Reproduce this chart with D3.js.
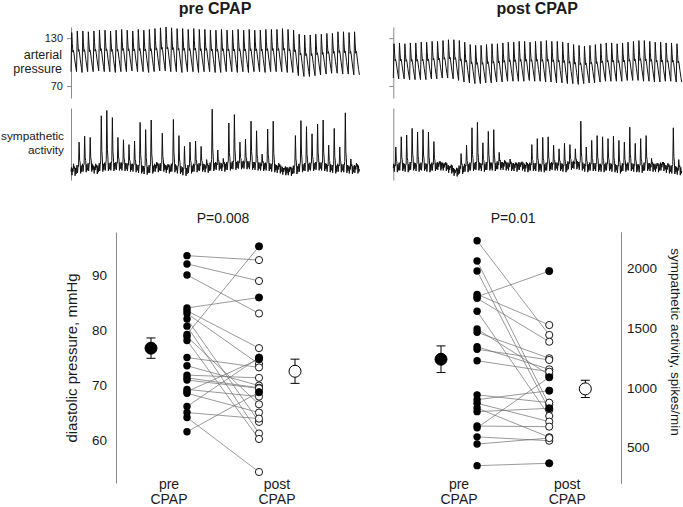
<!DOCTYPE html>
<html>
<head>
<meta charset="utf-8">
<script src="https://cdn.jsdelivr.net/npm/d3@7"></script>
<style>
  body { margin: 0; background: #fff; }
  svg { display: block; font-family: Arial, "Liberation Sans", sans-serif; }
</style>
</head>
<body>
<div id="chart"></div>
<script>
// ---- top traces: one value per heart beat ----
const prePressurePeaks = [137, 139, 139, 138, 139, 140, 140, 139, 140, 141, 140, 139,
  141, 140, 141, 142, 143, 144, 143, 142, 142, 141, 142, 141, 141, 140, 140, 141,
  140, 140, 141, 140, 141, 140, 140, 141, 141, 141, 142, 141, 140, 135, 134, 134,
  135, 135, 136, 136, 138, 138, 137, 138];
const prePressureTroughs = [88, 88, 87, 88, 88, 89, 88, 88, 87, 88, 88, 89, 88, 88,
  87, 88, 89, 89, 88, 88, 87, 88, 88, 87, 88, 88, 87, 87, 88, 88, 87, 88, 87, 88,
  88, 87, 88, 88, 88, 87, 87, 83, 82, 82, 83, 84, 85, 86, 86, 85, 85, 84];
const postPressurePeaks = [123, 124, 123, 124, 124, 125, 125, 126, 126, 127, 128, 128,
  127, 125, 122, 121, 121, 122, 123, 123, 124, 125, 125, 126, 126, 125, 126, 126,
  127, 126, 126, 125, 124, 122, 121, 120, 121, 122, 123, 124, 124, 123, 124, 125,
  126, 127, 127, 126, 125, 125, 124, 124, 123];
const postPressureTroughs = [80, 79, 79, 78, 78, 78, 78, 79, 79, 80, 80, 79, 77, 75,
  74, 73, 73, 74, 74, 75, 75, 76, 76, 76, 76, 77, 76, 76, 75, 75, 74, 74, 73, 73,
  72, 73, 74, 74, 75, 76, 76, 76, 76, 77, 77, 77, 76, 76, 75, 75, 76, 76, 75];

const preBurstHeights = [1.3, 4.5, 5.3, 5.0, 1.0, 8.6, 9.4, 8.2, 4.8, 4.5, 3.8, 4.5,
  7.8, 6.8, 8.2, 1.0, 5.7, 0.8, 8.1, 5.7, 4.2, 4.5, 4.5, 3.5, 1.5, 9.6, 2.7, 1.5,
  7.2, 8.5, 3.8, 4.3, 7.4, 5.9, 2.1, 6.3, 7.8, 1.0, 0.5, 0.8, 5.7, 7.9, 6.8, 5.5,
  7.0, 7.8, 3.8, 6.8, 3.5, 9.3, 1.8, 1.0];
const preBaseline = [-0.6, -0.2, 0, 0.1, -0.3, 0.1, 0.2, 0.2, 0.3, 0.2, 0.1, 0, -0.2,
  -0.4, -0.2, 0, 0.1, -0.2, 0, -0.3, -0.6, -0.2, 0, 0.1, -0.1, 0.2, 0.3, 0.1, 0.3,
  0.4, 0.5, 0.5, 0.4, 0.3, 0.2, 0.2, 0, -0.2, -0.5, -0.6, -0.3, 0, 0.1, 0.2, 0.3,
  0.2, 0, -0.2, 0, -0.1, -0.3, -0.2];
const postBurstHeights = [3.5, 5.0, 5.5, 6.3, 5.9, 6.2, 6.0, 4.2, 0.8, 0.6, 0.5, 0.3,
  2.7, 3.8, 6.5, 7.3, 4.1, 5.8, 6.2, 2.2, 1.0, 1.3, 0.8, 0.6, 1.0, 3.7, 4.8, 5.1,
  5.0, 3.5, 3.0, 4.1, 3.5, 2.7, 7.5, 3.5, 4.4, 5.3, 5.2, 4.7, 5.3, 4.8, 4.2, 6.6,
  4.1, 5.0, 5.2, 1.5, 0.8, 0.8, 1.0, 7.0, 1.9];
const postBaseline = [0, 0.2, 0, 0.3, 0.1, 0.2, 0, 0.2, 0.3, 0.2, -0.2, -0.7, -0.3, 0,
  0.2, 0.3, 0.1, 0.3, 0.2, 0.4, 0.3, 0.2, 0.1, 0.3, 0, 0.2, 0.1, 0, 0.2, 0.3, 0.2,
  0, 0.4, 0.5, 0.3, 0, 0.2, 0.1, 0, 0.2, 0, -0.2, 0.1, 0.2, 0, -0.1, 0.2, 0.1, 0,
  0.2, -0.2, -0.3, -0.5];

const pressureTicks = [70, 130];

// ---- bottom panels: subjects, pre and post CPAP (same index = same subject) ----
const diastolicPre = [93.5, 92.0, 90.0, 84.0, 83.5, 83.0, 82.0, 80.7, 79.2, 78.8, 78.1,
  75.0, 73.5, 71.8, 71.3, 70.9, 69.2, 68.8, 68.5, 66.1, 65.0, 64.1, 61.5];
const diastolicPost = [92.7, 88.9, 83.0, 85.9, 76.7, 73.8, 63.3, 61.2, 95.2, 66.5, 60.2,
  73.2, 69.9, 71.3, 69.5, 69.4, 67.9, 74.7, 65.0, 75.0, 63.9, 54.2, 68.7];
const diastolicPostFilled = [0, 0, 0, 1, 0, 0, 0, 0, 1, 0, 0,
  0, 0, 0, 0, 0, 0, 1, 0, 1, 0, 0, 1];
const diastolicMean = [76.7, 72.5];
const diastolicSE = [1.85, 2.2];
const diastolicTicks = [60, 70, 80, 90];

const msnaPre = [2225, 2056, 1972, 1778, 1758, 1745, 1637, 1489, 1462, 1342, 1320, 1225,
  940, 900, 870, 830, 800, 680, 665, 590, 530, 350];
const msnaPost = [1439, 856, 814, 1522, 1972, 1383, 764, 1106, 1245, 1153, 1231, 1133,
  875, 975, 717, 587, 828, 675, 1087, 558, 580, 370];
const msnaPostFilled = [0, 0, 0, 0, 1, 0, 0, 0, 0, 0, 0, 0,
  0, 1, 0, 0, 1, 0, 1, 0, 0, 1];
const msnaMean = [1237, 990];
const msnaSE = [111, 72];
const msnaTicks = [500, 1000, 1500, 2000];

const groupLabels = ['pre', 'post'];
const pValues = ['P=0.008', 'P=0.01'];

const axisGrey = '#8a8a8a';
const textColor = '#1a1a1a';

const svg = d3.select('#chart').append('svg')
  .attr('width', 683)
  .attr('height', 507);

// shape of one arterial pulse: [phase, fraction of pulse height]
const pulseShape = [[0, 0], [0.13, 1], [0.24, 0.72], [0.34, 0.5], [0.41, 0.55],
  [0.5, 0.5], [0.68, 0.3], [0.86, 0.12]];
// shape of one nerve-activity beat: [phase, fraction of burst, noise]
const burstShape = [[0, 0, 0], [0.09, 0, 0.7], [0.18, 0, -0.6], [0.27, 0, 0.5],
  [0.36, 0.15, -0.2], [0.46, 1, 0], [0.56, 0.3, 0.1], [0.65, 0.1, 0.7],
  [0.74, 0, -0.7], [0.83, 0, 0.6], [0.92, 0, -0.4]];

function pressurePoints(peaks, troughs) {
  const pts = [];
  peaks.forEach((s, i) => {
    const d = troughs[i];
    const dNext = i + 1 < troughs.length ? troughs[i + 1] : d;
    pulseShape.forEach(([t, f]) => {
      const base = t <= 0.13 ? d : d + (dNext - d) * (t - 0.13) / 0.87;
      pts.push([i + t, base + f * (s - base)]);
    });
  });
  pts.push([peaks.length, troughs[troughs.length - 1]]);
  return pts;
}

function burstPoints(heights, baseline) {
  const pts = [];
  heights.forEach((h, i) => {
    const b = baseline[i];
    burstShape.forEach(([t, f, n]) => pts.push([i + t, b + f * h + n]));
  });
  pts.push([heights.length, baseline[baseline.length - 1]]);
  return pts;
}

function drawTraces(x0, peaks, troughs, bursts, baseline, title, withLabels) {
  const xP = d3.scaleLinear().domain([0, peaks.length]).range([x0, x0 + 288.4]);
  const xS = d3.scaleLinear().domain([0, bursts.length]).range([x0, x0 + 288.4]);
  const yP = d3.scaleLinear().domain([55, 144]).range([98, 27]);
  const yS = d3.scaleLinear().domain([-2, 10]).range([180, 108]);

  svg.append('text')
    .attr('x', x0 + 144).attr('y', 14)
    .attr('text-anchor', 'middle')
    .style('font-size', '16px').style('font-weight', 'bold')
    .attr('fill', textColor)
    .text(title);

  const axP = svg.append('g')
    .attr('transform', `translate(${x0},0)`)
    .call(d3.axisLeft(yP).tickValues(pressureTicks).tickSize(4).tickSizeOuter(0)
      .tickFormat(withLabels ? d3.format('d') : () => ''));
  axP.select('.domain').attr('stroke', axisGrey);
  axP.selectAll('.tick line').attr('stroke', axisGrey);
  axP.selectAll('.tick text').style('font-size', '11px').attr('fill', textColor).attr('dx', '-1');

  const axS = svg.append('g')
    .attr('transform', `translate(${x0},0)`)
    .call(d3.axisLeft(yS).tickValues([]).tickSizeOuter(0));
  axS.select('.domain').attr('stroke', axisGrey);

  svg.append('path')
    .datum(pressurePoints(peaks, troughs))
    .attr('fill', 'none').attr('stroke', '#111').attr('stroke-width', 1)
    .attr('d', d3.line().x(d => xP(d[0])).y(d => yP(d[1])));

  svg.append('path')
    .datum(burstPoints(bursts, baseline))
    .attr('fill', 'none').attr('stroke', '#111').attr('stroke-width', 1)
    .attr('d', d3.line().x(d => xS(d[0])).y(d => yS(d[1])));

  if (withLabels) {
    const lab = [['arterial', 59, 62, 12.5], ['pressure', 73, 62, 12.5],
      ['sympathetic', 140, 64, 11.8], ['activity', 154, 64, 11.8]];
    svg.selectAll('.trace-label')
      .data(lab)
      .enter().append('text')
      .attr('class', 'trace-label')
      .attr('x', d => d[2]).attr('y', d => d[1])
      .attr('text-anchor', 'end')
      .style('font-size', d => d[3] + 'px')
      .attr('fill', textColor)
      .text(d => d[0]);
  }
}

drawTraces(71, prePressurePeaks, prePressureTroughs, preBurstHeights, preBaseline, 'pre CPAP', true);
drawTraces(393.3, postPressurePeaks, postPressureTroughs, postBurstHeights, postBaseline, 'post CPAP', false);

function drawPaired(opts) {
  const { pre, post, filled, mean, se, ticks, x, y, axisX, side, pText, yLabel, labelX, labelY, labelRot, labelSize } = opts;
  const g = svg.append('g');

  const axis = side === 'left' ? d3.axisLeft(y) : d3.axisRight(y);
  const ax = g.append('g')
    .attr('transform', `translate(${axisX},0)`)
    .call(axis.tickValues(ticks).tickSize(0).tickSizeOuter(0)
      .tickFormat(d3.format('d')).tickPadding(side === 'left' ? 9 : 6));
  ax.select('.domain').attr('stroke', axisGrey);
  ax.selectAll('.tick text').style('font-size', '13.5px').attr('fill', textColor);

  g.append('text')
    .attr('transform', `translate(${labelX},${labelY}) rotate(${labelRot})`)
    .attr('text-anchor', 'middle')
    .attr('dy', '0.35em')
    .style('font-size', labelSize)
    .attr('fill', textColor)
    .text(yLabel);

  g.append('text')
    .attr('x', x(2)).attr('y', 223)
    .attr('text-anchor', 'middle')
    .style('font-size', '14px')
    .attr('fill', textColor)
    .text(pText);

  const pairs = pre.map((v, i) => ({ pre: v, post: post[i], filled: filled[i] }));

  g.selectAll('.pair-line')
    .data(pairs)
    .enter().append('line')
    .attr('class', 'pair-line')
    .attr('x1', x(1)).attr('x2', x(3))
    .attr('y1', d => y(d.pre)).attr('y2', d => y(d.post))
    .attr('stroke', '#6e6e6e').attr('stroke-width', 0.7);

  g.selectAll('.pre-dot')
    .data(pairs)
    .enter().append('circle')
    .attr('class', 'pre-dot')
    .attr('cx', x(1)).attr('cy', d => y(d.pre)).attr('r', 3.7)
    .attr('fill', '#000');

  g.selectAll('.post-dot')
    .data(pairs)
    .enter().append('circle')
    .attr('class', 'post-dot')
    .attr('cx', x(3)).attr('cy', d => y(d.post)).attr('r', 3.6)
    .attr('fill', d => d.filled ? '#000' : '#fff')
    .attr('stroke', '#000').attr('stroke-width', 0.9);

  const summary = mean.map((m, i) => ({ m, se: se[i], pos: i === 0 ? 0 : 4, open: i === 1 }));
  summary.forEach(s => {
    const cx = x(s.pos);
    g.append('line')
      .attr('x1', cx).attr('x2', cx)
      .attr('y1', y(s.m + s.se)).attr('y2', y(s.m - s.se))
      .attr('stroke', '#000').attr('stroke-width', 1);
    [s.m + s.se, s.m - s.se].forEach(v => {
      g.append('line')
        .attr('x1', cx - 4.5).attr('x2', cx + 4.5)
        .attr('y1', y(v)).attr('y2', y(v))
        .attr('stroke', '#000').attr('stroke-width', 1);
    });
    g.append('circle')
      .attr('cx', cx).attr('cy', y(s.m)).attr('r', 6)
      .attr('fill', s.open ? '#fff' : '#000')
      .attr('stroke', '#000').attr('stroke-width', 1);
  });

  g.selectAll('.group-label')
    .data(groupLabels)
    .enter().append('text')
    .attr('class', 'group-label')
    .attr('x', (d, i) => x(i === 0 ? 0.5 : 3.5))
    .attr('text-anchor', 'middle')
    .style('font-size', '14px')
    .attr('fill', textColor)
    .each(function (d) {
      const t = d3.select(this);
      t.append('tspan').attr('y', 489).attr('x', t.attr('x')).text(d);
      t.append('tspan').attr('y', 503.5).attr('x', t.attr('x')).text('CPAP');
    });
}

drawPaired({
  pre: diastolicPre, post: diastolicPost, filled: diastolicPostFilled,
  mean: diastolicMean, se: diastolicSE, ticks: diastolicTicks,
  x: d3.scaleLinear().domain([0, 4]).range([151, 295]),
  y: d3.scaleLinear().domain([52.2, 97.8]).range([483, 232]),
  axisX: 116, side: 'left', pText: pValues[0],
  yLabel: 'diastolic pressure, mmHg', labelX: 72, labelY: 358, labelRot: -90, labelSize: '15px'
});

drawPaired({
  pre: msnaPre, post: msnaPost, filled: msnaPostFilled,
  mean: msnaMean, se: msnaSE, ticks: msnaTicks,
  x: d3.scaleLinear().domain([0, 4]).range([441, 585.3]),
  y: d3.scaleLinear().domain([203, 2300]).range([483.3, 231.7]),
  axisX: 621, side: 'right', pText: pValues[1],
  yLabel: 'sympathetic activity, spikes/min', labelX: 676, labelY: 342, labelRot: 90, labelSize: '13.5px'
});
</script>
</body>
</html>
